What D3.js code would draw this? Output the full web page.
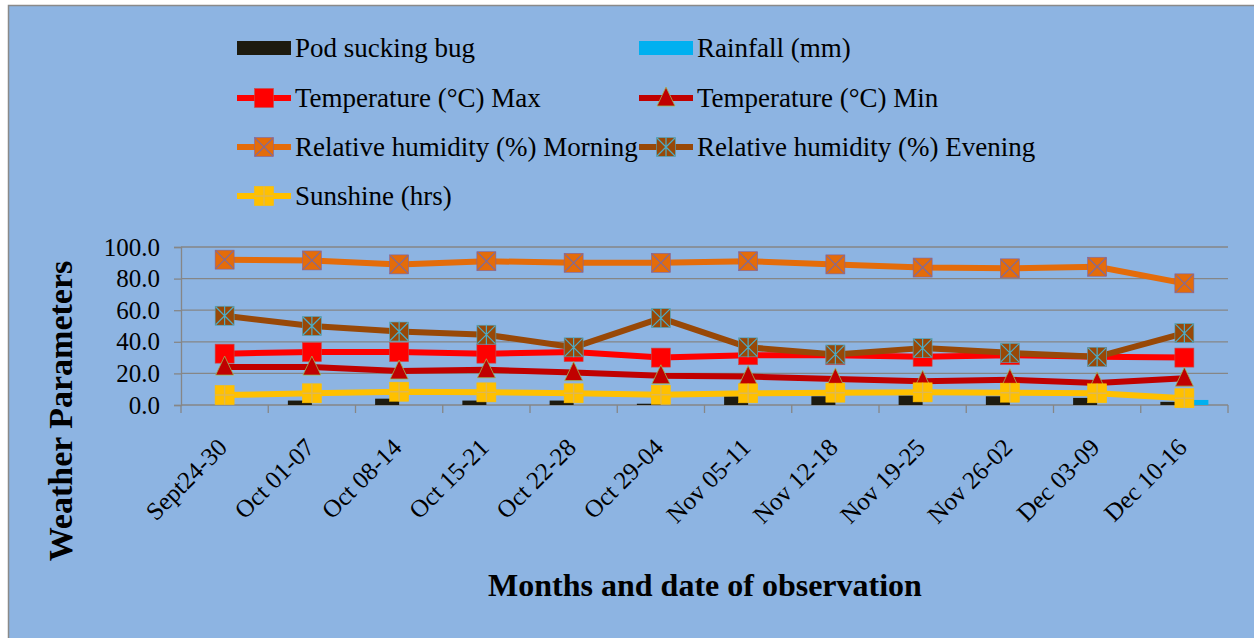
<!DOCTYPE html>
<html>
<head>
<meta charset="utf-8">
<script src="https://cdn.jsdelivr.net/npm/d3@7"></script>
<style>
  html, body { margin: 0; padding: 0; background: #ffffff; }
  svg { display: block; }
  text { font-family: "Liberation Serif", "Times New Roman", serif; fill: #000; }
</style>
</head>
<body>
<svg id="chart" width="1254" height="638"></svg>
<script>
// ---------- DATA ----------
const categories = ["Sept24-30", "Oct 01-07", "Oct 08-14", "Oct 15-21", "Oct 22-28", "Oct 29-04",
                    "Nov 05-11", "Nov 12-18", "Nov 19-25", "Nov 26-02", "Dec 03-09", "Dec 10-16"];
const podSuckingBug = [0, 2.8, 4.0, 2.8, 2.8, 0.8, 5.5, 5.5, 6.0, 5.5, 4.5, 2.0];
const rainfall      = [0, 0, 0, 0, 0, 0, 0, 0, 0, 0, 0, 3.2];
const tempMax       = [32.5, 33.5, 33.5, 32.5, 33.5, 30.0, 31.5, 31.5, 30.5, 31.5, 30.5, 30.0];
const tempMin       = [24.0, 24.0, 21.5, 22.3, 20.5, 18.5, 18.0, 16.5, 15.0, 16.0, 14.0, 17.0];
const rhMorning     = [92.0, 91.5, 89.0, 91.0, 90.0, 90.0, 91.0, 89.0, 87.0, 86.5, 87.5, 77.0];
const rhEvening     = [56.5, 50.0, 46.5, 44.5, 36.5, 55.0, 36.5, 32.0, 36.0, 33.0, 30.5, 45.5];
const sunshine      = [6.3, 7.4, 8.4, 8.0, 7.4, 6.5, 7.4, 7.8, 8.0, 7.8, 7.4, 4.3];
const yTicks        = [0, 20, 40, 60, 80, 100];

const SERIF = '"Liberation Serif", "Times New Roman", serif';
const svg = d3.select("#chart");

// chart background
svg.append("rect").attr("x", 8.5).attr("y", 5.5).attr("width", 1260).attr("height", 650)
  .attr("fill", "#8DB4E2").attr("stroke", "#8a8a8a").attr("stroke-width", 1.5);

// ---------- SCALES ----------
const x = d3.scaleBand().domain(categories).range([181, 1228]).padding(0);
const y = d3.scaleLinear().domain([0, 100]).range([405, 247]);
const xBar = d3.scaleBand().domain(["bug", "rain"]).range([-24, 24]).padding(0);
const cx = c => x(c) + x.bandwidth() / 2;

// ---------- GRID & AXES ----------
const grid = svg.append("g");
grid.selectAll("line").data(yTicks.filter(t => t > 0)).join("line")
  .attr("x1", 181).attr("x2", 1228)
  .attr("y1", d => y(d)).attr("y2", d => y(d))
  .attr("stroke", "#868686").attr("stroke-width", 1.3);

const yAxis = svg.append("g").attr("transform", "translate(181,0)")
  .call(d3.axisLeft(y).tickValues(yTicks).tickSize(7).tickPadding(14).tickFormat(d3.format(".1f")));
yAxis.attr("font-family", null);
yAxis.select(".domain").attr("stroke", "#868686").attr("stroke-width", 1.3);
yAxis.selectAll(".tick line").attr("stroke", "#868686").attr("stroke-width", 1.3);
yAxis.selectAll(".tick text").attr("font-size", 25).style("font-family", SERIF).attr("fill", "#000");

// x axis line and boundary ticks
svg.append("line").attr("x1", 181).attr("x2", 1228).attr("y1", y(0)).attr("y2", y(0))
  .attr("stroke", "#868686").attr("stroke-width", 1.3);
const bounds = categories.map(c => x(c)).concat([x(categories[categories.length - 1]) + x.bandwidth()]);
svg.append("g").selectAll("line").data(bounds).join("line")
  .attr("x1", d => d).attr("x2", d => d).attr("y1", y(0)).attr("y2", y(0) + 8)
  .attr("stroke", "#868686").attr("stroke-width", 1.3);

// x labels
svg.append("g").selectAll("text").data(categories).join("text")
  .attr("transform", d => `translate(${cx(d) + 4},449) rotate(-45)`)
  .attr("text-anchor", "end").attr("font-size", 25).style("font-family", SERIF)
  .text(d => d);

// axis titles
svg.append("text").attr("x", 705).attr("y", 596).attr("text-anchor", "middle").style("font-family", SERIF)
  .attr("font-size", 32).attr("font-weight", "bold").text("Months and date of observation");
svg.append("text").attr("transform", "translate(72,411) rotate(-90)").attr("text-anchor", "middle").style("font-family", SERIF)
  .attr("font-size", 34).attr("font-weight", "bold").text("Weather Parameters");

// ---------- BARS ----------
const barSeries = [
  { key: "bug", values: podSuckingBug, color: "#1D1B10" },
  { key: "rain", values: rainfall, color: "#00B0F0" }
];
const barG = svg.append("g");
barSeries.forEach(s => {
  barG.selectAll(null).data(categories).join("rect")
    .attr("x", (c) => cx(c) + xBar(s.key))
    .attr("width", xBar.bandwidth())
    .attr("y", (c, i) => y(s.values[i]))
    .attr("height", (c, i) => y(0) - y(s.values[i]))
    .attr("fill", s.color);
});

// ---------- MARKERS ----------
function drawMarker(g, type, px, py) {
  if (type === "square") {
    g.append("rect").attr("x", px - 9.5).attr("y", py - 9.5).attr("width", 19).attr("height", 19)
      .attr("fill", "#FF0000").attr("stroke", "#c0504d").attr("stroke-width", 0.6);
  } else if (type === "triangle") {
    g.append("path").attr("d", `M${px},${py - 11} L${px + 9},${py + 8} L${px - 9},${py + 8} Z`)
      .attr("fill", "#C00000").attr("stroke", "#9bbb59").attr("stroke-width", 0.8);
  } else if (type === "xsquare") {
    g.append("rect").attr("x", px - 9.5).attr("y", py - 9.5).attr("width", 19).attr("height", 19)
      .attr("fill", "#E46C0A").attr("stroke", "#8064A2").attr("stroke-width", 0.6);
    g.append("path").attr("d", `M${px - 9},${py - 9} L${px + 9},${py + 9} M${px + 9},${py - 9} L${px - 9},${py + 9}`)
      .attr("stroke", "#7F6A9A").attr("stroke-width", 1.2);
  } else if (type === "star") {
    g.append("rect").attr("x", px - 9.5).attr("y", py - 9.5).attr("width", 19).attr("height", 19)
      .attr("fill", "#984807").attr("stroke", "#4BACC6").attr("stroke-width", 0.6);
    g.append("path").attr("d", `M${px - 9},${py - 9} L${px + 9},${py + 9} M${px + 9},${py - 9} L${px - 9},${py + 9} M${px},${py - 10} L${px},${py + 10}`)
      .attr("stroke", "#4BACC6").attr("stroke-width", 1.2);
  } else if (type === "plus") {
    g.append("rect").attr("x", px - 9.5).attr("y", py - 9.5).attr("width", 19).attr("height", 19)
      .attr("fill", "#FFC000").attr("stroke", "#FFC000").attr("stroke-width", 0.6);
    g.append("path").attr("d", `M${px - 9.5},${py} L${px + 9.5},${py} M${px},${py - 9.5} L${px},${py + 9.5}`)
      .attr("stroke", "#E0B850").attr("stroke-width", 1.4);
  }
}

// ---------- LINES ----------
const lineSeries = [
  { name: "Temperature (°C) Max", values: tempMax, color: "#FF0000", marker: "square" },
  { name: "Temperature (°C) Min", values: tempMin, color: "#C00000", marker: "triangle" },
  { name: "Relative humidity (%) Morning", values: rhMorning, color: "#E46C0A", marker: "xsquare" },
  { name: "Relative humidity (%) Evening", values: rhEvening, color: "#984807", marker: "star" },
  { name: "Sunshine (hrs)", values: sunshine, color: "#FFC000", marker: "plus" }
];
const line = d3.line().x(d => cx(d.c)).y(d => y(d.v));
lineSeries.forEach(s => {
  const g = svg.append("g");
  const pts = categories.map((c, i) => ({ c, v: s.values[i] }));
  g.append("path").datum(pts).attr("d", line).attr("fill", "none")
    .attr("stroke", s.color).attr("stroke-width", 6).attr("stroke-linejoin", "round");
  pts.forEach(p => drawMarker(g, s.marker, cx(p.c), y(p.v)));
});

// ---------- LEGEND ----------
const legendItems = [
  { name: "Pod sucking bug", type: "bar", color: "#1D1B10", col: 0, row: 0 },
  { name: "Rainfall (mm)", type: "bar", color: "#00B0F0", col: 1, row: 0 },
  { name: lineSeries[0].name, type: "line", s: lineSeries[0], col: 0, row: 1 },
  { name: lineSeries[1].name, type: "line", s: lineSeries[1], col: 1, row: 1 },
  { name: lineSeries[2].name, type: "line", s: lineSeries[2], col: 0, row: 2 },
  { name: lineSeries[3].name, type: "line", s: lineSeries[3], col: 1, row: 2 },
  { name: lineSeries[4].name, type: "line", s: lineSeries[4], col: 0, row: 3 }
];
const colX = [237, 639];
const rowY = [48, 98, 147, 196];
const lg = svg.append("g");
legendItems.forEach(it => {
  const x0 = colX[it.col], yc = rowY[it.row];
  if (it.type === "bar") {
    lg.append("rect").attr("x", x0).attr("y", yc - 7).attr("width", 54).attr("height", 14).attr("fill", it.color);
  } else {
    lg.append("line").attr("x1", x0).attr("x2", x0 + 54).attr("y1", yc).attr("y2", yc)
      .attr("stroke", it.s.color).attr("stroke-width", 6);
    drawMarker(lg, it.s.marker, x0 + 27, yc);
  }
  lg.append("text").attr("x", x0 + 58).attr("y", yc + 9).attr("font-size", 27).style("font-family", SERIF).text(it.name);
});
</script>
</body>
</html>
